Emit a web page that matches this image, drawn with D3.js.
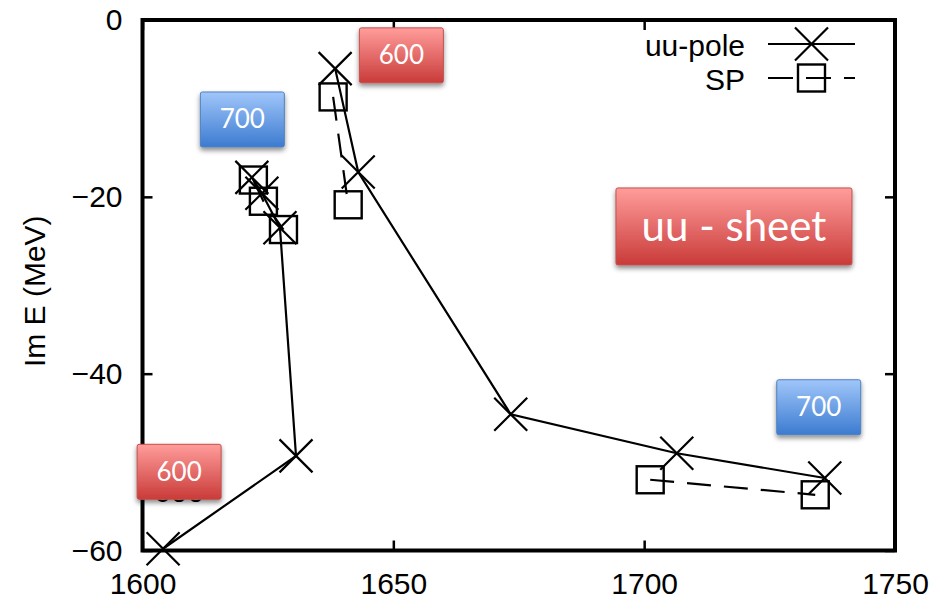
<!DOCTYPE html>
<html>
<head>
<meta charset="utf-8">
<script src="https://cdn.jsdelivr.net/npm/d3@7"></script>
<style>
  body { margin: 0; background: #fff; }
  text { font-family: "Liberation Sans", Arial, sans-serif; }
</style>
</head>
<body>
<svg id="chart"></svg>
<script>
// uu-pole trajectories (Re E, Im E), two branches
const poleBranch1 = [[1604.1, -59.8], [1630.6, -49.3], [1627.4, -23.5], [1623.8, -19.6], [1621.8, -17.8]];
const poleBranch2 = [[1638.4, -5.5], [1643.0, -17.2], [1673.4, -44.6], [1706.5, -49.0], [1736.0, -51.8]];
// SP points, drawn as three dashed pieces
const spPiece1 = [[1622.1, -18.1], [1624.1, -20.5], [1628.1, -23.7]];
const spPiece2 = [[1638.0, -8.7], [1641.0, -20.9]];
const spPiece3 = [[1701.2, -52.0], [1734.1, -53.7]];

const xTicks = [1600, 1650, 1700, 1750];
const yTicks = [-60, -40, -20, 0];

// boxed annotations: text, colour, centre in data units
const noteText = ['600', '700', '600', '700', 'uu - sheet'];
const noteKind = ['red', 'blue', 'red', 'blue', 'red'];
const noteX = [1651.6, 1619.9, 1607.3, 1734.8, 1717.9];
const noteY = [-4.0, -11.25, -51.1, -43.8, -23.35];

const width = 939, height = 604;
const svg = d3.select('#chart').attr('width', width).attr('height', height);

const x = d3.scaleLinear().domain([1600, 1750]).range([142.5, 895]);
const y = d3.scaleLinear().domain([-60, 0]).range([550.5, 20]);

const defs = svg.append('defs');
function grad(id, top, bottom) {
  const g = defs.append('linearGradient').attr('id', id)
    .attr('x1', 0).attr('y1', 0).attr('x2', 0).attr('y2', 1);
  g.append('stop').attr('offset', '0%').attr('stop-color', top);
  g.append('stop').attr('offset', '100%').attr('stop-color', bottom);
}
grad('gred', '#ff9d9b', '#c93b39');
grad('gblue', '#a0c6fa', '#3c7bd0');
defs.append('filter').attr('id', 'shadow')
  .attr('x', '-20%').attr('y', '-20%').attr('width', '140%').attr('height', '160%')
  .append('feDropShadow')
  .attr('dx', 0).attr('dy', 3).attr('stdDeviation', 2.5)
  .attr('flood-color', '#000').attr('flood-opacity', 0.45);

// axes with inward mirrored ticks
function styleAxis(g) {
  g.select('.domain').remove();
  g.selectAll('.tick line').attr('stroke', '#000').attr('stroke-width', 2.5);
  g.selectAll('.tick text').attr('fill', '#000').style('font-size', '30px')
    .style('font-family', '"Liberation Sans", Arial, sans-serif');
}
svg.append('g').attr('transform', `translate(0,${y(-60)})`)
  .call(d3.axisBottom(x).tickValues(xTicks).tickSize(-10).tickPadding(22).tickFormat(d3.format('d')))
  .call(styleAxis);
svg.append('g').attr('transform', `translate(0,${y(0)})`)
  .call(d3.axisTop(x).tickValues(xTicks).tickSize(-10).tickFormat(''))
  .call(styleAxis);
svg.append('g').attr('transform', `translate(${x(1600)},0)`)
  .call(d3.axisLeft(y).tickValues(yTicks).tickSize(-10).tickPadding(20).tickFormat(d3.format('d')))
  .call(styleAxis);
svg.append('g').attr('transform', `translate(${x(1750)},0)`)
  .call(d3.axisRight(y).tickValues(yTicks).tickSize(-10).tickFormat(''))
  .call(styleAxis);

svg.append('rect')
  .attr('x', x(1600)).attr('y', y(0))
  .attr('width', x(1750) - x(1600)).attr('height', y(-60) - y(0))
  .attr('fill', 'none').attr('stroke', '#000').attr('stroke-width', 4);

svg.append('text')
  .attr('transform', `translate(45,${(y(0) + y(-60)) / 2 + 6}) rotate(-90)`)
  .attr('text-anchor', 'middle')
  .style('font-size', '30px')
  .text('Im E (MeV)');

const line = d3.line().x(d => x(d[0])).y(d => y(d[1]));

[poleBranch1, poleBranch2].forEach(b => {
  svg.append('path').datum(b).attr('d', line)
    .attr('fill', 'none').attr('stroke', '#000').attr('stroke-width', 2.2);
});
[spPiece1, spPiece2, spPiece3].forEach(b => {
  svg.append('path').datum(b).attr('d', line)
    .attr('fill', 'none').attr('stroke', '#000').attr('stroke-width', 2.2)
    .attr('stroke-dasharray', '24,13');
});

const cr = 16.5, sq = 27;
function cross(g, cx, cy) {
  g.append('path')
    .attr('d', `M${cx - cr},${cy - cr}L${cx + cr},${cy + cr}M${cx - cr},${cy + cr}L${cx + cr},${cy - cr}`)
    .attr('stroke', '#000').attr('stroke-width', 2.2).attr('fill', 'none');
}
function square(g, cx, cy) {
  g.append('rect').attr('x', cx - sq / 2).attr('y', cy - sq / 2)
    .attr('width', sq).attr('height', sq)
    .attr('fill', 'none').attr('stroke', '#000').attr('stroke-width', 2.4);
}
const marks = svg.append('g');
poleBranch1.concat(poleBranch2).forEach(d => cross(marks, x(d[0]), y(d[1])));
spPiece1.concat(spPiece2, spPiece3).forEach(d => square(marks, x(d[0]), y(d[1])));

// legend
const lg = svg.append('g');
lg.append('text').attr('x', 745).attr('y', 56).attr('text-anchor', 'end')
  .style('font-size', '30px').text('uu-pole');
lg.append('text').attr('x', 745).attr('y', 90).attr('text-anchor', 'end')
  .style('font-size', '30px').text('SP');
lg.append('line').attr('x1', 768).attr('x2', 855).attr('y1', 44).attr('y2', 44)
  .attr('stroke', '#000').attr('stroke-width', 2.2);
cross(lg, 811.5, 44);
lg.append('line').attr('x1', 768).attr('x2', 855).attr('y1', 78).attr('y2', 78)
  .attr('stroke', '#000').attr('stroke-width', 2.2).attr('stroke-dasharray', '25,13');
square(lg, 811.5, 78);

// black label partly covered by the lower-left box
svg.append('text').attr('x', x(1607.3)).attr('y', 502).attr('text-anchor', 'middle')
  .style('font-size', '30px').text('600');

// boxed annotations
noteText.forEach((t, i) => {
  const big = t.length > 4;
  const w = big ? 236 : 84, h = big ? 77 : 55;
  const cx = x(noteX[i]), cy = y(noteY[i]);
  const g = svg.append('g');
  g.append('rect')
    .attr('x', cx - w / 2).attr('y', cy - h / 2)
    .attr('width', w).attr('height', h).attr('rx', 2)
    .attr('fill', noteKind[i] === 'red' ? 'url(#gred)' : 'url(#gblue)')
    .attr('stroke', noteKind[i] === 'red' ? '#c0504d' : '#4f81bd')
    .attr('stroke-width', 1)
    .attr('filter', 'url(#shadow)');
  g.append('text')
    .attr('x', cx).attr('y', cy + (big ? 15 : 9))
    .attr('text-anchor', 'middle')
    .attr('fill', '#fff')
    .style('font-family', 'Lato, "Open Sans", sans-serif')
    .style('font-size', big ? '42px' : '26px')
    .text(t);
});
</script>
</body>
</html>
